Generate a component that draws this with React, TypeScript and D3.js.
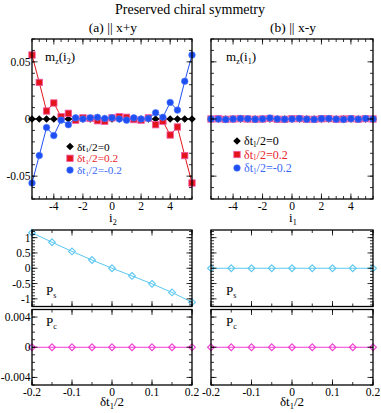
import * as d3 from "d3";

// site index for the m_z panels
const sites = [-5.5, -5, -4.5, -4, -3.5, -3, -2.5, -2, -1.5, -1, -0.5, 0, 0.5, 1, 1.5, 2, 2.5, 3, 3.5, 4, 4.5, 5, 5.5];

// (a) || x+y
const mzA0 = [0, 0, 0, 0, 0, 0, 0, 0, 0, 0, 0, 0, 0, 0, 0, 0, 0, 0, 0, 0, 0, 0, 0];
const mzAp = [0.056, 0.032, 0.007, 0.014, 0.002, 0.005, -0.001, 0.001, 0.0005, -0.0015, -0.002, 0.001, 0.002, 0.0015, -0.0005, -0.001, 0.001, -0.005, -0.002, -0.014, -0.007, -0.032, -0.056];
const mzAm = [-0.056, -0.032, -0.0075, -0.0145, -0.001, -0.005, 0.001, 0, 0.001, 0.0015, 0.0005, 0.001, 0, -0.001, 0.001, 0, 0.0005, 0.0055, 0.0015, 0.0145, 0.0078, 0.033, 0.056];

// (b) || x-y
const mzB0 = [0, 0, 0, 0, 0, 0, 0, 0, 0, 0, 0, 0, 0, 0, 0, 0, 0, 0, 0, 0, 0, 0, 0];
const mzBp = [0, 0.0002, -0.0003, 0, 0.0003, 0, -0.0002, 0, 0.0005, -0.0002, -0.0003, 0.0002, 0.0003, -0.0002, -0.0003, 0.0002, 0.0003, -0.0002, 0, 0.0003, -0.0002, 0.0003, 0];
const mzBm = [0, 0, -0.0005, 0, 0.0004, 0.0002, -0.0003, 0, 0.0008, 0, -0.0003, 0, 0.0005, -0.0002, -0.0004, 0.0003, 0.0004, -0.0002, -0.0004, 0.0003, -0.0002, 0.0004, 0];

// polarisations vs dt1/2
const dt = [-0.2, -0.15, -0.1, -0.05, 0, 0.05, 0.1, 0.15, 0.2];
const psA = [1.16, 0.85, 0.55, 0.27, 0, -0.25, -0.51, -0.79, -1.11];
const pcA = [0, 0, 0, 0, 0, 0, 0, 0, 0];
const psB = [0, 0, 0, 0, 0, 0, 0, 0, 0];
const pcB = [0, 0, 0, 0, 0, 0, 0, 0, 0];

const siteTicks = [-4, -2, 0, 2, 4];
const dtTicks = [-0.2, -0.1, 0, 0.1, 0.2];

const FONT = '"Liberation Serif", "DejaVu Serif", "Times New Roman", serif';
const RED = "#e3141b";
const BLUE = "#1f4ff2";
const CYAN = "#5cc8ef";
const MAGENTA = "#f03cd0";

type Series = { xs: number[]; ys: number[]; color: string; marker: string };

function range(a: number, b: number, step: number) {
  const out: number[] = [];
  const n = Math.round((b - a) / step);
  for (let i = 0; i <= n; i++) out.push(+(a + i * step).toFixed(6));
  return out;
}

function Marker({ x, y, kind, color }: { x: number; y: number; kind: string; color: string }) {
  if (kind === "diamond")
    return <path d={`M${x},${y - 3.8}L${x + 3.8},${y}L${x},${y + 3.8}L${x - 3.8},${y}Z`} fill="#000" />;
  if (kind === "square")
    return <rect x={x - 3.2} y={y - 3.2} width={6.4} height={6.4} fill={color} stroke="#f35aa8" strokeWidth={0.8} />;
  if (kind === "circle")
    return <circle cx={x} cy={y} r={3.3} fill={color} stroke="#4f7bff" strokeWidth={0.6} />;
  // open diamond
  return <path d={`M${x},${y - 3.4}L${x + 3.4},${y}L${x},${y + 3.4}L${x - 3.4},${y}Z`} fill="none" stroke={color} strokeWidth={1.1} />;
}

function Panel(props: {
  x0: number; x1: number; y0: number; y1: number;
  xd: [number, number]; yd: [number, number];
  xMajor: number[]; xMinor: number[]; yMajor: number[]; yMinor: number[];
  xLabels?: number[]; yLabels?: number[];
  series: Series[];
}) {
  const { x0, x1, y0, y1, series } = props;
  const x = d3.scaleLinear().domain(props.xd).range([x0, x1]);
  const y = d3.scaleLinear().domain(props.yd).range([y1, y0]);
  const line = d3.line<[number, number]>();
  const ticks: JSX.Element[] = [];
  props.xMinor.forEach((v, i) => {
    const px = x(v);
    ticks.push(<line key={"xm" + i} x1={px} x2={px} y1={y1} y2={y1 - 3} />);
    ticks.push(<line key={"xmt" + i} x1={px} x2={px} y1={y0} y2={y0 + 3} />);
  });
  props.xMajor.forEach((v, i) => {
    const px = x(v);
    ticks.push(<line key={"xM" + i} x1={px} x2={px} y1={y1} y2={y1 - 5.5} />);
    ticks.push(<line key={"xMt" + i} x1={px} x2={px} y1={y0} y2={y0 + 5.5} />);
  });
  props.yMinor.forEach((v, i) => {
    const py = y(v);
    ticks.push(<line key={"ym" + i} x1={x0} x2={x0 + 3} y1={py} y2={py} />);
    ticks.push(<line key={"ymr" + i} x1={x1} x2={x1 - 3} y1={py} y2={py} />);
  });
  props.yMajor.forEach((v, i) => {
    const py = y(v);
    ticks.push(<line key={"yM" + i} x1={x0} x2={x0 + 5.5} y1={py} y2={py} />);
    ticks.push(<line key={"yMr" + i} x1={x1} x2={x1 - 5.5} y1={py} y2={py} />);
  });
  return (
    <g>
      {series.map((s, si) => (
        <g key={si}>
          <path
            d={line(s.xs.map((v, i) => [x(v), y(s.ys[i])] as [number, number])) || ""}
            fill="none" stroke={s.marker === "diamond" ? "#000" : s.color} strokeWidth={1}
          />
          {s.xs.map((v, i) => (
            <Marker key={i} x={x(v)} y={y(s.ys[i])} kind={s.marker} color={s.color} />
          ))}
        </g>
      ))}
      <g stroke="#000" strokeWidth={0.8}>{ticks}</g>
      <rect x={x0} y={y0} width={x1 - x0} height={y1 - y0} fill="none" stroke="#000" strokeWidth={1.3} />
      {(props.xLabels || []).map((v, i) => (
        <text key={"xl" + i} x={x(v)} y={y1 + 10.5} textAnchor="middle" fontSize={11.5}>
          {String(v)}
        </text>
      ))}
      {(props.yLabels || []).map((v, i) => (
        <text key={"yl" + i} x={x0 - 1.5} y={y(v) + 4} textAnchor="end" fontSize={11.5}>
          {String(v)}
        </text>
      ))}
    </g>
  );
}

function Legend({ x, y, gap, size }: { x: number; y: number; gap: number; size: number }) {
  const items = [
    { v: "0", color: "#000", kind: "diamond", text: "#000" },
    { v: "0.2", color: RED, kind: "square", text: "#e8232b" },
    { v: "-0.2", color: BLUE, kind: "circle", text: "#3b6af5" },
  ];
  return (
    <g>
      {items.map((it, i) => (
        <g key={i}>
          <Marker x={x} y={y + i * gap} kind={it.kind} color={it.color} />
          <text x={x + 7} y={y + i * gap + 4} fontSize={size} fill={it.text}>
            δt<tspan fontSize={size * 0.6} dy={1.5}>1</tspan>
            <tspan dy={-1.5}>/2={it.v}</tspan>
          </text>
        </g>
      ))}
    </g>
  );
}

function Sub({ x, y, main, sub, rest, size = 13 }: { x: number; y: number; main: string; sub: string; rest?: string[]; size?: number }) {
  return (
    <text x={x} y={y} fontSize={size}>
      {main}
      <tspan fontSize={size * 0.62} dy={2.5}>{sub}</tspan>
      {rest ? (
        <>
          <tspan dy={-2.5}>{rest[0]}</tspan>
          <tspan fontSize={size * 0.62} dy={2.5}>{rest[1]}</tspan>
          <tspan dy={-2.5}>{rest[2]}</tspan>
        </>
      ) : null}
    </text>
  );
}

export default function App() {
  const L = [32, 192] as const;
  const R = [211, 373] as const;
  const top = [39, 199] as const;
  const mid = [230, 306.5] as const;
  const bot = [309.5, 385] as const;

  const topCommon = {
    xd: [-5.5, 5.5] as [number, number], yd: [-0.07, 0.07] as [number, number],
    xMajor: siteTicks, xMinor: range(-5.5, 5.5, 0.5),
    yMajor: [-0.05, 0, 0.05], yMinor: range(-0.07, 0.07, 0.01),
    xLabels: siteTicks,
  };
  const midCommon = {
    xd: [-0.2, 0.2] as [number, number], yd: [-1.25, 1.25] as [number, number],
    xMajor: dtTicks, xMinor: range(-0.2, 0.2, 0.05),
    yMajor: [-1, -0.5, 0, 0.5, 1], yMinor: range(-1.2, 1.2, 0.1),
  };
  const botCommon = {
    xd: [-0.2, 0.2] as [number, number], yd: [-0.005, 0.005] as [number, number],
    xMajor: dtTicks, xMinor: range(-0.2, 0.2, 0.05),
    yMajor: [-0.004, 0, 0.004], yMinor: range(-0.005, 0.005, 0.001),
    xLabels: dtTicks,
  };

  const mzSeries = (a: number[], b: number[], c: number[]): Series[] => [
    { xs: sites, ys: a, color: "#000", marker: "diamond" },
    { xs: sites, ys: b, color: RED, marker: "square" },
    { xs: sites, ys: c, color: BLUE, marker: "circle" },
  ];

  return (
    <svg width={381} height={413} style={{ position: "absolute", left: 0, top: 0, background: "#fff", fontFamily: FONT }}>
      <text x={190} y={14} textAnchor="middle" fontSize={14}>Preserved chiral symmetry</text>
      <text x={113} y={32} textAnchor="middle" fontSize={13.5}>(a) || x+y</text>
      <text x={293} y={32} textAnchor="middle" fontSize={13.5}>(b) || x-y</text>

      <Panel x0={L[0]} x1={L[1]} y0={top[0]} y1={top[1]} {...topCommon}
        yLabels={[-0.05, 0, 0.05]} series={mzSeries(mzA0, mzAp, mzAm)} />
      <Panel x0={R[0]} x1={R[1]} y0={top[0]} y1={top[1]} {...topCommon}
        series={mzSeries(mzB0, mzBp, mzBm)} />

      <Panel x0={L[0]} x1={L[1]} y0={mid[0]} y1={mid[1]} {...midCommon}
        yLabels={[-1, -0.5, 0, 0.5, 1]}
        series={[{ xs: dt, ys: psA, color: CYAN, marker: "odiamond" }]} />
      <Panel x0={R[0]} x1={R[1]} y0={mid[0]} y1={mid[1]} {...midCommon}
        series={[{ xs: dt, ys: psB, color: CYAN, marker: "odiamond" }]} />

      <Panel x0={L[0]} x1={L[1]} y0={bot[0]} y1={bot[1]} {...botCommon}
        yLabels={[-0.004, 0, 0.004]}
        series={[{ xs: dt, ys: pcA, color: MAGENTA, marker: "odiamond" }]} />
      <Panel x0={R[0]} x1={R[1]} y0={bot[0]} y1={bot[1]} {...botCommon}
        series={[{ xs: dt, ys: pcB, color: MAGENTA, marker: "odiamond" }]} />

      <Sub x={45} y={61} main="m" sub="z" rest={["(i", "2", ")"]} />
      <Sub x={226} y={61} main="m" sub="z" rest={["(i", "1", ")"]} />
      <Legend x={70} y={146.5} gap={11.8} size={11.3} />
      <Legend x={237} y={141} gap={13.5} size={12} />

      <Sub x={109} y={222} main="i" sub="2" />
      <Sub x={289} y={222} main="i" sub="1" />

      <Sub x={46} y={295} main="P" sub="s" />
      <Sub x={226} y={295} main="P" sub="s" />
      <Sub x={46} y={326} main="P" sub="c" />
      <Sub x={226} y={326} main="P" sub="c" />

      <text x={112} y={406} textAnchor="middle" fontSize={13}>
        δt<tspan fontSize={8.5} dy={2.5}>1</tspan><tspan dy={-2.5}>/2</tspan>
      </text>
      <text x={292} y={406} textAnchor="middle" fontSize={13}>
        δt<tspan fontSize={8.5} dy={2.5}>1</tspan><tspan dy={-2.5}>/2</tspan>
      </text>
    </svg>
  );
}
